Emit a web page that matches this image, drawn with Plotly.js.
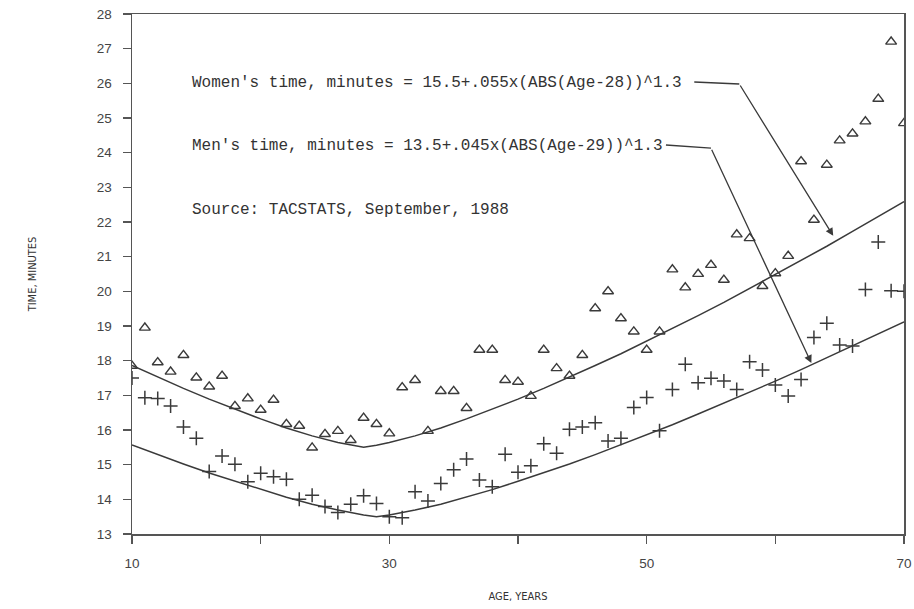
<!DOCTYPE html>
<html>
<head>
<meta charset="utf-8">
<script src="https://cdn.plot.ly/plotly-3.0.1.min.js"></script>
<style>html,body{margin:0;padding:0;background:#fff}#chart{width:914px;height:609px}</style>
</head>
<body>
<div id="chart"></div>
<script>
// Women's times (triangles)
const womenAge = [10,11,12,13,14,15,16,17,18,19,20,21,22,23,24,25,26,27,28,29,30,31,32,33,34,35,36,37,38,39,40,41,42,43,44,45,46,47,48,49,50,51,52,53,54,55,56,57,58,59,60,61,62,63,64,65,66,67,68,69,70];
const womenTime = [17.85,18.95,17.95,17.68,18.16,17.51,17.25,17.56,16.69,16.91,16.58,16.87,16.17,16.12,15.49,15.88,15.97,15.71,16.35,16.17,15.90,17.23,17.44,15.97,17.12,17.12,16.63,18.31,18.31,17.44,17.39,16.98,18.31,17.78,17.56,18.16,19.51,20.00,19.22,18.84,18.31,18.84,20.63,20.11,20.50,20.76,20.33,21.64,21.53,20.15,20.52,21.02,23.75,22.06,23.65,24.35,24.55,24.90,25.55,27.20,24.85];

// Men's times (crosses)
const menAge = [10,11,12,13,14,15,16,17,18,19,20,21,22,23,24,25,26,27,28,29,30,31,32,33,34,35,36,37,38,39,40,41,42,43,44,45,46,47,48,49,50,51,52,53,54,55,56,57,58,59,60,61,62,63,64,65,66,67,68,69,70];
const menTime = [17.50,16.93,16.91,16.69,16.09,15.76,14.80,15.25,15.01,14.51,14.75,14.65,14.58,14.00,14.12,13.79,13.62,13.86,14.10,13.88,13.50,13.47,14.22,13.95,14.46,14.85,15.16,14.56,14.36,15.30,14.78,14.97,15.60,15.33,16.02,16.09,16.21,15.68,15.76,16.65,16.94,15.98,17.17,17.90,17.36,17.49,17.41,17.17,17.97,17.73,17.30,16.98,17.46,18.67,19.08,18.45,18.42,20.05,21.42,20.02,20.00];

// Fitted curves
const womenFitAge = [10,12,14,16,18,20,22,24,26,27,28,29,30,32,34,36,38,40,42,44,46,48,50,52,54,56,58,60,62,64,66,68,70];
const womenFitTime = [17.86,17.52,17.20,16.89,16.60,16.32,16.06,15.83,15.64,15.56,15.50,15.56,15.64,15.83,16.06,16.32,16.60,16.89,17.20,17.52,17.86,18.20,18.56,18.92,19.30,19.68,20.08,20.48,20.89,21.30,21.73,22.16,22.59];
const menFitAge = [10,12,14,16,18,20,22,24,26,28,29,30,32,34,36,38,40,42,44,46,48,50,52,54,56,58,60,62,64,66,68,70];
const menFitTime = [15.57,15.29,15.02,14.76,14.52,14.28,14.06,13.86,13.69,13.55,13.50,13.55,13.69,13.86,14.06,14.28,14.52,14.76,15.02,15.29,15.57,15.86,16.15,16.46,16.77,17.08,17.41,17.74,18.08,18.42,18.77,19.12];

const xTickVals = [10,20,30,40,50,60,70];
const xTickText = ['10','','30','','50','','70'];
const yTickVals = [13,14,15,16,17,18,19,20,21,22,23,24,25,26,27,28];

const womenLabel = "Women's time, minutes = 15.5+.055x(ABS(Age-28))^1.3";
const menLabel = "Men's time, minutes = 13.5+.045x(ABS(Age-29))^1.3";
const sourceLabel = "Source: TACSTATS, September, 1988";

const ink = '#3a3a3a';
const monoFont = {family: 'Liberation Mono, DejaVu Sans Mono, monospace', size: 16, color: '#333'};

const traces = [
  {x: womenFitAge, y: womenFitTime, mode: 'lines', line: {color: ink, width: 1.5}, hoverinfo: 'skip'},
  {x: menFitAge, y: menFitTime, mode: 'lines', line: {color: ink, width: 1.5}, hoverinfo: 'skip'},
  {x: womenAge, y: womenTime, mode: 'markers',
   marker: {symbol: 'triangle-up-open', size: 9.5, color: ink, line: {width: 1.4, color: ink}}},
  {x: menAge, y: menTime, mode: 'markers',
   marker: {symbol: 'cross-thin-open', size: 10, color: ink, line: {width: 1.5, color: ink}}}
];

const layout = {
  width: 914, height: 609,
  margin: {l: 132, r: 10, t: 14, b: 75},
  paper_bgcolor: '#fff', plot_bgcolor: '#fff',
  showlegend: false,
  xaxis: {
    range: [10, 70], tickvals: xTickVals, ticktext: xTickText,
    showgrid: false, zeroline: false, showline: true, mirror: true,
    linecolor: '#555', linewidth: 1.5, ticks: 'outside', ticklen: 8, tickwidth: 1.3, tickcolor: '#555',
    ticklabelstandoff: 8,
    tickfont: {family: 'Liberation Sans, Arial, sans-serif', size: 13.5, color: '#444'},
    title: {text: 'AGE, YEARS', standoff: 22, font: {family: 'DejaVu Sans Condensed, Liberation Sans Narrow, sans-serif', size: 11, color: '#333'}}
  },
  yaxis: {
    range: [13, 28], tickvals: yTickVals,
    showgrid: false, zeroline: false, showline: true, mirror: true,
    linecolor: '#555', linewidth: 1.5, ticks: 'outside', ticklen: 8, tickwidth: 1.3, tickcolor: '#555',
    ticklabelstandoff: 8,
    tickfont: {family: 'Liberation Sans, Arial, sans-serif', size: 13.5, color: '#444'},
    title: {text: 'TIME, MINUTES', standoff: 58, font: {family: 'DejaVu Sans Condensed, Liberation Sans Narrow, sans-serif', size: 11, color: '#333'}}
  },
  shapes: [
    {type: 'line', xref: 'x', yref: 'y', x0: 53.7, y0: 26.04, x1: 57.2, y1: 25.98, line: {color: ink, width: 1.4}},
    {type: 'line', xref: 'x', yref: 'y', x0: 51.5, y0: 24.22, x1: 55.0, y1: 24.13, line: {color: ink, width: 1.4}}
  ],
  annotations: [
    {xref: 'x', yref: 'y', x: 14.5, y: 26.02, text: womenLabel, showarrow: false, xanchor: 'left', yanchor: 'middle', font: monoFont},
    {xref: 'x', yref: 'y', x: 14.5, y: 24.2, text: menLabel, showarrow: false, xanchor: 'left', yanchor: 'middle', font: monoFont},
    {xref: 'x', yref: 'y', x: 14.5, y: 22.35, text: sourceLabel, showarrow: false, xanchor: 'left', yanchor: 'middle', font: monoFont},
    {xref: 'x', yref: 'y', axref: 'x', ayref: 'y', x: 64.5, y: 21.6, ax: 57.2, ay: 25.98, text: '',
     showarrow: true, arrowhead: 2, arrowsize: 1.2, arrowwidth: 1.3, arrowcolor: ink, standoff: 0},
    {xref: 'x', yref: 'y', axref: 'x', ayref: 'y', x: 62.8, y: 17.93, ax: 55.0, ay: 24.13, text: '',
     showarrow: true, arrowhead: 2, arrowsize: 1.2, arrowwidth: 1.3, arrowcolor: ink, standoff: 0}
  ]
};

Plotly.newPlot('chart', traces, layout, {displayModeBar: false, staticPlot: true});
</script>
</body>
</html>
